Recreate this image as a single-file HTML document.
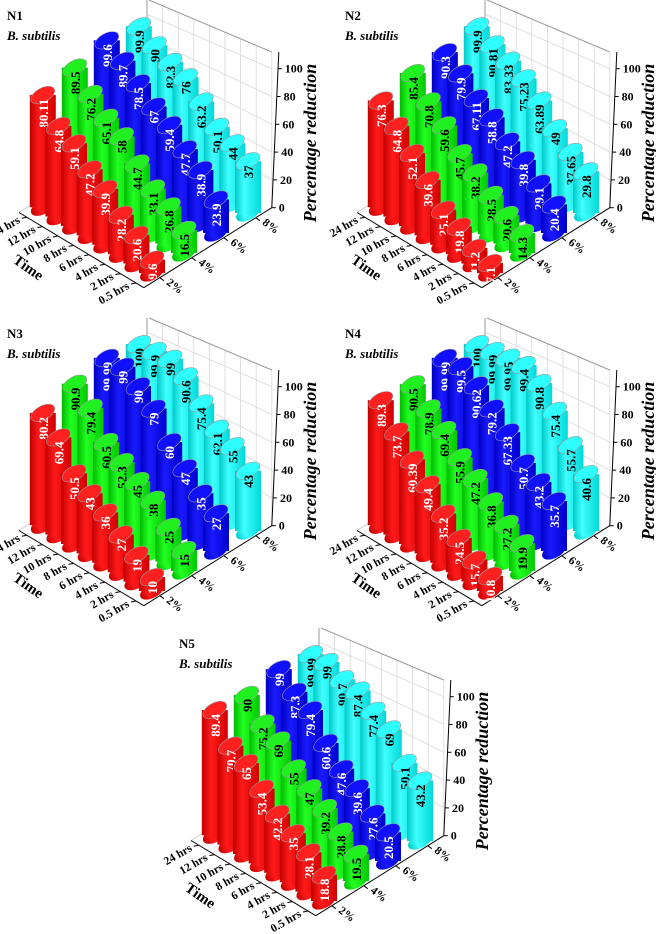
<!DOCTYPE html>
<html><head><meta charset="utf-8">
<style>
html,body{margin:0;padding:0;background:#fff;}
svg{display:block;font-family:"Liberation Serif",serif;}
</style></head>
<body>
<svg id="chart" width="656" height="934" viewBox="0 0 656 934" xmlns="http://www.w3.org/2000/svg">
<defs>
<linearGradient id="g-red" x1="0" x2="1"><stop offset="0" stop-color="#c00000"/><stop offset="0.35" stop-color="#ff1a1a"/><stop offset="1" stop-color="#d00000"/></linearGradient>
<linearGradient id="g-green" x1="0" x2="1"><stop offset="0" stop-color="#00b800"/><stop offset="0.35" stop-color="#22ff22"/><stop offset="1" stop-color="#00c800"/></linearGradient>
<linearGradient id="g-blue" x1="0" x2="1"><stop offset="0" stop-color="#0000c0"/><stop offset="0.35" stop-color="#1a1aff"/><stop offset="1" stop-color="#0000cc"/></linearGradient>
<linearGradient id="g-cyan" x1="0" x2="1"><stop offset="0" stop-color="#00c8c8"/><stop offset="0.35" stop-color="#40ffff"/><stop offset="1" stop-color="#00d8d8"/></linearGradient>
</defs>
</svg>
<script>
const panelNames = ["N1","N2","N3","N4","N5"];
const timeLabels = ["0.5 hrs","2 hrs","4 hrs","6 hrs","8 hrs","10 hrs","12 hrs","24 hrs"];
const concLabels = ["2%","4%","6%","8%"];
const zTicks = [0,20,40,60,80,100];
// values per panel, per concentration, ordered 0.5 hrs -> 24 hrs
const n1Red   = [9.6,20.6,28.2,39.9,47.2,59.1,64.8,80.11];
const n1Green = [16.5,26.8,33.1,44.7,58,65.1,76.2,89.5];
const n1Blue  = [23.9,38.9,47.7,59.4,67,78.5,89.7,99.6];
const n1Cyan  = [37,44,50.1,63.2,76,82.3,90,99.9];
const n2Red   = [7.1,11.2,19.8,25.1,39.6,52.1,64.8,76.3];
const n2Green = [14.3,20.6,28.5,38.2,45.7,59.6,70.8,85.4];
const n2Blue  = [20.4,29.1,39.8,47.2,58.8,67.11,79.9,90.3];
const n2Cyan  = [29.8,37.65,49,63.89,75.23,83.33,90.81,99.9];
const n3Red   = [10,19,27,36,43,50.5,69.4,80.2];
const n3Green = [15,25,38,45,52.3,60.5,79.4,90.9];
const n3Blue  = [27,35,47,60,79,90,99,99.99];
const n3Cyan  = [43,55,62.1,75.4,90.6,99,99.9,100];
const n4Red   = [10.8,15.7,24.5,35.2,49.4,60.39,73.7,89.3];
const n4Green = [19.9,27.2,36.8,47.2,55.9,69.4,78.9,90.5];
const n4Blue  = [35.7,43.2,50.7,67.33,79.2,90.62,99.5,99.99];
const n4Cyan  = [40.6,55.7,75.4,90.8,99.4,99.95,99.99,100];
const n5Red   = [18.8,28.1,35,42.2,53.4,65,70.7,89.4];
const n5Green = [19.5,28.8,39.2,47,55,69,75.2,90];
const n5Blue  = [20.5,27.6,39.6,47.6,60.6,79.4,87.3,99];
const n5Cyan  = [43.2,50.1,69,77.4,87.4,90.7,99,99.99];

const panelData = [
  [n1Red,n1Green,n1Blue,n1Cyan],
  [n2Red,n2Green,n2Blue,n2Cyan],
  [n3Red,n3Green,n3Blue,n3Cyan],
  [n4Red,n4Green,n4Blue,n4Cyan],
  [n5Red,n5Green,n5Blue,n5Cyan]
];
const offsets = [[0,0],[338,0],[0,318],[338,318],[172,628]];
const fills = ["url(#g-red)","url(#g-green)","url(#g-blue)","url(#g-cyan)"];
const tops = ["#ff2020","#20f020","#1010ff","#30ffff"];
const textCol = ["#fff","#000","#fff","#000"];
const colorNames = ["red","green","blue","cyan"];

const NS = "http://www.w3.org/2000/svg";
const svg = document.getElementById("chart");
function mk(tag, attrs, parent){
  const e = document.createElementNS(NS, tag);
  for (const k in attrs) e.setAttribute(k, attrs[k]);
  parent.appendChild(e);
  return e;
}
// projection (local panel coords), with mild perspective on vertical scale
function P(t, c, z){
  const k = 1.4 - 0.009 * Math.max(t,0) * Math.max(c,0);
  return [152 - 15.6*t + 32*c, 273 - 9.4*t - 20*c - k*z];
}
function PA(t, c, z){ // axis scale (front-right edge)
  return [152 - 15.6*t + 32*c, 273 - 9.4*t - 20*c - 1.39*z];
}

panelData.forEach((series, pi) => {
  const [ox, oy] = offsets[pi];
  const g = mk("g", {transform:`translate(${ox},${oy})`}, svg);
  
  

  // back wall grid
  const wall = mk("g", {stroke:"#d8d8d8", "stroke-width":"0.8", fill:"none"}, g);
  
  
  const zTopA = 112;
  const topA = PA(-0.5, 3.5, zTopA);
  const baseB = PA(7.5, 3.5, 0);
  const topB = [baseB[0] + 2, 0];
  for (let i = 0; i <= 8; i++) {
    const t = -0.5 + i;
    const a = PA(t, 3.5, 0);
    const f = i / 8;
    const ty = topA[1] + (topB[1] - topA[1]) * f;
    mk("line", {x1:a[0], y1:a[1], x2:a[0], y2:ty}, wall);
  }
  zTicks.forEach(z => {
    if (z === 0) return;
    const a = PA(-0.5, 3.5, z);
    const f = z / zTopA;
    const by = baseB[1] + (topB[1] - baseB[1]) * f;
    mk("line", {x1:a[0], y1:a[1], x2:baseB[0], y2:by}, wall);
  });
  mk("line", {x1:topA[0], y1:topA[1], x2:topB[0], y2:topB[1], stroke:"#999"}, g);
  mk("line", {x1:baseB[0], y1:topB[1], x2:baseB[0], y2:baseB[1], stroke:"#999"}, g);
  const wl = PA(7.5, -0.5, 0);
  mk("line", {x1:baseB[0], y1:baseB[1], x2:wl[0], y2:wl[1], stroke:"#ccc"}, g);

  // axes
  const ax = mk("g", {stroke:"#000", "stroke-width":"1", fill:"none"}, g);
  
  
  const c0 = PA(-0.5, -0.5, 0), tEnd = PA(7.5, -0.5, 0), cEnd = PA(-0.5, 3.5, 0);
  mk("line", {x1:c0[0], y1:c0[1], x2:tEnd[0], y2:tEnd[1]}, ax);
  mk("line", {x1:c0[0], y1:c0[1], x2:cEnd[0], y2:cEnd[1]}, ax);
  mk("line", {x1:cEnd[0], y1:cEnd[1], x2:topA[0] + 7, y2:topA[1]}, ax);

  // bars: back to front
  for (let c = 3; c >= 0; c--) {
    for (let t = 7; t >= 0; t--) {
      const v = series[c][t];
      const base = P(t, c, 0), top = P(t, c, v);
      const cx = base[0], r = 13;
      const bg = mk("g", {}, g);
      
      
      mk("ellipse", {cx:cx, cy:base[1], rx:r, ry:7, fill:fills[c], transform:`rotate(-28 ${cx} ${base[1]})`}, bg);
      mk("rect", {x:cx - r, y:top[1], width:2*r, height:base[1] - top[1], fill:fills[c]}, bg);
      mk("ellipse", {cx:cx, cy:top[1], rx:r, ry:7, fill:tops[c], stroke:"#999", "stroke-width":"0.6", transform:`rotate(-28 ${cx} ${top[1]})`}, bg);
      const tx = mk("text", {x:0, y:0, transform:`translate(${cx + 5},${top[1] + 4}) rotate(-90)`, "text-anchor":"end", "font-size":"13", "font-weight":"bold", fill:textCol[c]}, bg);
      tx.textContent = String(v);
      
      
    }
  }

  // time tick labels
  timeLabels.forEach((lab, t) => {
    const p = PA(t, -0.5, 0);
    mk("line", {x1:p[0], y1:p[1], x2:p[0] - 5, y2:p[1] + 1, stroke:"#000"}, g);
    const tx = mk("text", {transform:`translate(${p[0] - 6},${p[1] + 5}) rotate(-30)`, "text-anchor":"end", "font-size":"11.5", "font-weight":"bold"}, g);
    tx.textContent = lab;
    
    
  });
  // conc tick labels
  concLabels.forEach((lab, c) => {
    const p = PA(-0.5, c, 0);
    mk("line", {x1:p[0], y1:p[1], x2:p[0] + 4, y2:p[1] + 3, stroke:"#000"}, g);
    const tx = mk("text", {transform:`translate(${p[0] + 6},${p[1] + 6}) rotate(38)`, "text-anchor":"start", "font-size":"11.5", "font-weight":"bold"}, g);
    tx.textContent = lab;
    
    
  });
  // z tick labels
  zTicks.forEach(z => {
    const p = PA(-0.5, 3.5, z);
    const sx = p[0] + z * 0.06;
    mk("line", {x1:sx, y1:p[1], x2:sx + 4, y2:p[1], stroke:"#000"}, g);
    const tx = mk("text", {x:sx + 7, y:p[1] + 4, "font-size":"12", "font-weight":"bold"}, g);
    tx.textContent = String(z);
    
    
  });
  const yt = mk("text", {transform:"translate(316,143) rotate(-90)", "text-anchor":"middle", "font-size":"18", "font-weight":"bold", "font-style":"italic"}, g);
  yt.textContent = "Percentage reduction";
  
  
  const tt = mk("text", {transform:"translate(12,262) rotate(35)", "font-size":"15", "font-weight":"bold"}, g);
  tt.textContent = "Time";
  
  
  const pt = mk("text", {x:7, y:20, "font-size":"13", "font-weight":"bold"}, g);
  pt.textContent = panelNames[pi];
  
  
  const st = mk("text", {x:7, y:40, "font-size":"13", "font-weight":"bold", "font-style":"italic"}, g);
  st.textContent = "B. subtilis";
  
  
});
</script>
</body></html>
